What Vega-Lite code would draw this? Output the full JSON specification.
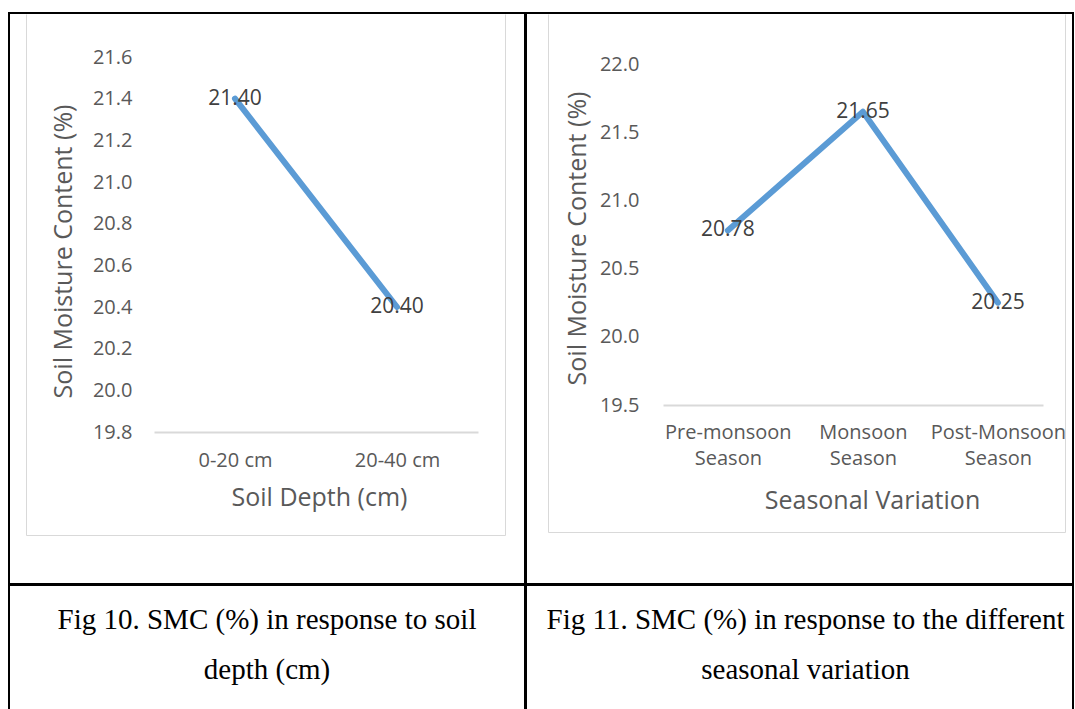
{
  "$schema": "https://vega.github.io/schema/vega-lite/v6.json",
  "background": "white",
  "padding": {"left": 8, "top": 10, "right": 0, "bottom": 0},
  "spacing": -2,
  "vconcat": [
    {
      "spacing": -2,
      "hconcat": [
        {
          "width": 516,
          "height": 571,
          "data": {"values": [
            {"depth": "0-20 cm", "smc": 21.40},
            {"depth": "20-40 cm", "smc": 20.40}
          ]},
          "resolve": {"scale": {"x": "independent", "y": "independent"}, "axis": {"x": "independent", "y": "independent"}},
          "layer": [
            {
              "encoding": {
                "x": {"field": "depth", "type": "nominal", "sort": null,
                  "scale": {"type": "point", "range": [145, 469], "padding": 0.5},
                  "axis": {"orient": "bottom", "offset": -152, "domainColor": "#D9D9D9", "domainWidth": 2, "ticks": false, "tickSize": 0, "labelAngle": 0, "labelPadding": 28, "labelBaseline": "middle", "labelOverlap": false, "title": "Soil Depth (cm)", "titleX": 310, "titleY": 65, "titleAngle": 0}},
                "y": {"field": "smc", "type": "quantitative",
                  "scale": {"domain": [19.8, 21.6], "range": [419, 44], "zero": false, "nice": false},
                  "axis": {"orient": "left", "offset": -17, "domain": false, "ticks": false, "tickSize": 0, "values": [19.8, 20.0, 20.2, 20.4, 20.6, 20.8, 21.0, 21.2, 21.4, 21.6], "format": ".1f", "labelAlign": "right", "labelBaseline": "middle", "labelPadding": -106, "title": "Soil Moisture Content (%)", "titleX": 37, "titleY": 238, "titleAngle": -90}}
              },
              "layer": [
                {"mark": {"type": "line", "color": "#5B9BD5", "strokeWidth": 6, "strokeCap": "round", "strokeJoin": "round"}},
                {"mark": {"type": "text", "font": "Open Sans", "fontSize": 21, "color": "#404040", "align": "center", "baseline": "middle"},
                 "encoding": {"text": {"field": "smc", "type": "quantitative", "format": ".2f"}}}
              ]
            },
            {
              "mark": {"type": "point", "opacity": 0},
              "encoding": {
                "x": {"field": "depth", "type": "nominal", "sort": null, "scale": {"type": "point", "range": [17, 496]},
                  "axis": {"orient": "bottom", "offset": -49, "labels": false, "ticks": false, "title": null, "domainColor": "#D9D9D9", "domainWidth": 1}},
                "y": {"field": "smc", "type": "quantitative", "scale": {"range": [522, 1], "zero": false},
                  "axis": {"orient": "left", "offset": -17, "labels": false, "ticks": false, "title": null, "domainColor": "#D9D9D9", "domainWidth": 1}}
              }
            },
            {
              "mark": {"type": "point", "opacity": 0},
              "encoding": {
                "y": {"field": "smc", "type": "quantitative", "scale": {"range": [522, 1], "zero": false},
                  "axis": {"orient": "right", "offset": -20, "labels": false, "ticks": false, "title": null, "domainColor": "#D9D9D9", "domainWidth": 1}}
              }
            }
          ]
        },
        {
          "width": 547,
          "height": 571,
          "data": {"values": [
            {"season": "Pre-monsoon Season", "smc": 20.78},
            {"season": "Monsoon Season", "smc": 21.65},
            {"season": "Post-Monsoon Season", "smc": 20.25}
          ]},
          "resolve": {"scale": {"x": "independent", "y": "independent"}, "axis": {"x": "independent", "y": "independent"}},
          "layer": [
            {
              "encoding": {
                "x": {"field": "season", "type": "nominal", "sort": null,
                  "scale": {"type": "point", "range": [137, 517], "padding": 0.407, "align": 0.59},
                  "axis": {"orient": "bottom", "offset": -179, "domainColor": "#D9D9D9", "domainWidth": 2, "ticks": false, "tickSize": 0, "labelAngle": 0, "labelPadding": 27, "labelBaseline": "middle", "labelOverlap": false, "labelExpr": "split(datum.label, ' ')", "labelLineHeight": 26, "title": "Seasonal Variation", "titleX": 346, "titleY": 95, "titleAngle": 0}},
                "y": {"field": "smc", "type": "quantitative",
                  "scale": {"domain": [19.5, 22.0], "range": [392, 51], "zero": false, "nice": false},
                  "axis": {"orient": "left", "offset": -22, "domain": false, "ticks": false, "tickSize": 0, "values": [19.5, 20.0, 20.5, 21.0, 21.5, 22.0], "format": ".1f", "labelAlign": "right", "labelBaseline": "middle", "labelPadding": -91, "title": "Soil Moisture Content (%)", "titleX": 29, "titleY": 225, "titleAngle": -90}}
              },
              "layer": [
                {"mark": {"type": "line", "color": "#5B9BD5", "strokeWidth": 6, "strokeCap": "round", "strokeJoin": "round"}},
                {"mark": {"type": "text", "font": "Open Sans", "fontSize": 21, "color": "#404040", "align": "center", "baseline": "middle"},
                 "encoding": {"text": {"field": "smc", "type": "quantitative", "format": ".2f"}}}
              ]
            },
            {
              "mark": {"type": "point", "opacity": 0},
              "encoding": {
                "x": {"field": "season", "type": "nominal", "sort": null, "scale": {"type": "point", "range": [22, 539]},
                  "axis": {"orient": "bottom", "offset": -52, "labels": false, "ticks": false, "title": null, "domainColor": "#D9D9D9", "domainWidth": 1}},
                "y": {"field": "smc", "type": "quantitative", "scale": {"range": [519, 1], "zero": false},
                  "axis": {"orient": "left", "offset": -22, "labels": false, "ticks": false, "title": null, "domainColor": "#D9D9D9", "domainWidth": 1}}
              }
            },
            {
              "mark": {"type": "point", "opacity": 0},
              "encoding": {
                "y": {"field": "smc", "type": "quantitative", "scale": {"range": [519, 1], "zero": false},
                  "axis": {"orient": "right", "offset": -8, "labels": false, "ticks": false, "title": null, "domainColor": "#D9D9D9", "domainWidth": 1}}
              }
            }
          ]
        }
      ]
    },
    {
      "spacing": -2,
      "hconcat": [
        {
          "width": 516,
          "height": 128,
          "view": {"stroke": "#000000", "strokeWidth": 2},
          "data": {"values": [
            {"line": 1, "caption": "Fig 10. SMC (%) in response to soil"},
            {"line": 2, "caption": "depth (cm)"}
          ]},
          "mark": {"type": "text", "font": "Liberation Serif", "fontSize": 29, "align": "center", "baseline": "middle", "color": "#000000"},
          "encoding": {
            "y": {"field": "line", "type": "ordinal", "scale": {"type": "point", "range": [35, 85], "padding": 0}, "axis": null},
            "text": {"field": "caption", "type": "nominal"}
          }
        },
        {
          "width": 547,
          "height": 128,
          "view": {"stroke": "#000000", "strokeWidth": 2},
          "data": {"values": [
            {"line": 1, "caption": "Fig 11. SMC (%) in response to the different"},
            {"line": 2, "caption": "seasonal variation"}
          ]},
          "mark": {"type": "text", "font": "Liberation Serif", "fontSize": 29, "align": "center", "baseline": "middle", "dx": 6, "color": "#000000"},
          "encoding": {
            "y": {"field": "line", "type": "ordinal", "scale": {"type": "point", "range": [35, 85], "padding": 0}, "axis": null},
            "text": {"field": "caption", "type": "nominal"}
          }
        }
      ]
    }
  ],
  "config": {
    "view": {"stroke": "#000000", "strokeWidth": 2},
    "font": "Open Sans",
    "axis": {
      "grid": false,
      "minExtent": 0,
      "labelFont": "Open Sans",
      "labelFontSize": 20,
      "labelColor": "#595959",
      "titleFont": "Open Sans",
      "titleFontSize": 25,
      "titleFontWeight": "normal",
      "titleColor": "#595959",
      "titleAlign": "center",
      "titleBaseline": "middle"
    }
  }
}
